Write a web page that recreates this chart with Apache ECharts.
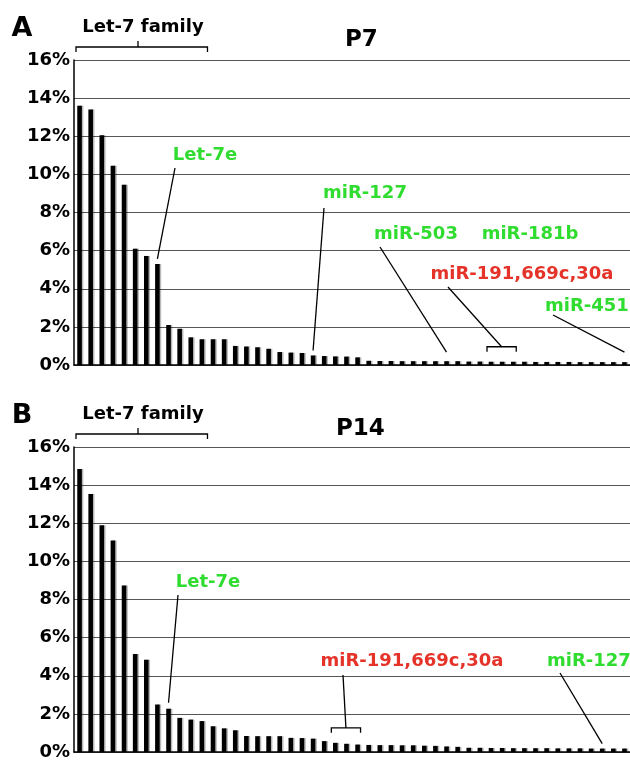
<!DOCTYPE html>
<html><head><meta charset="utf-8">
<script src="https://cdn.jsdelivr.net/npm/echarts@6/dist/echarts.min.js"></script>
<style>html,body{margin:0;padding:0;background:#fff;overflow:hidden}#c{width:630px;height:761px}</style>
</head><body><div id="c"></div>
<script>
// ---- data ----
const ranks = ['1','2','3','4','5','6','7','8','9','10','11','12','13','14','15','16','17','18','19','20',
  '21','22','23','24','25','26','27','28','29','30','31','32','33','34','35','36','37','38','39','40',
  '41','42','43','44','45','46','47','48','49','50'];
const p7Values = [13.6, 13.4, 12.05, 10.45, 9.45, 6.1, 5.72, 5.3, 2.1, 1.9,
  1.45, 1.35, 1.35, 1.35, 1.0, 0.97, 0.93, 0.85, 0.68, 0.65,
  0.63, 0.5, 0.47, 0.45, 0.44, 0.4, 0.22, 0.21, 0.21, 0.2,
  0.2, 0.2, 0.2, 0.2, 0.2, 0.18, 0.18, 0.17, 0.17, 0.17,
  0.17, 0.16, 0.16, 0.16, 0.16, 0.15, 0.15, 0.15, 0.15, 0.15];
const p14Values = [14.85, 13.53, 11.9, 11.1, 8.73, 5.14, 4.84, 2.49, 2.27, 1.79,
  1.7, 1.62, 1.35, 1.24, 1.14, 0.84, 0.83, 0.83, 0.83, 0.74,
  0.73, 0.7, 0.57, 0.48, 0.43, 0.39, 0.37, 0.36, 0.36, 0.35,
  0.35, 0.33, 0.32, 0.29, 0.27, 0.22, 0.22, 0.21, 0.21, 0.2,
  0.2, 0.2, 0.2, 0.19, 0.19, 0.19, 0.18, 0.18, 0.18, 0.18];
const yMin = 0, yMax = 16, yStep = 2;
const panelTitles = ['P7', 'P14'];
const panelLetters = ['A', 'B'];
const familyLabel = 'Let-7 family';
// annotated bars (0-based rank index)
const p7Notes = [
  {text: 'Let-7e', kind: 'green', bar: 7},
  {text: 'miR-127', kind: 'green', bar: 21},
  {text: 'miR-503', kind: 'green', bar: 33},
  {text: 'miR-181b', kind: 'green', bar: null},
  {text: 'miR-191,669c,30a', kind: 'red', bars: [37, 39]},
  {text: 'miR-451', kind: 'green', bar: 49}
];
const p14Notes = [
  {text: 'Let-7e', kind: 'green', bar: 8},
  {text: 'miR-191,669c,30a', kind: 'red', bars: [23, 25]},
  {text: 'miR-127', kind: 'green', bar: 47}
];
const familyBars = [0, 11];

// ---- layout / style ----
const FONT = '"DejaVu Sans", sans-serif';
const COLORS = {green: '#2fdc2f', red: '#e5332a'};
const grids = [{left: 74, top: 60, width: 560, height: 305}, {left: 74, top: 447, width: 560, height: 305.5}];
// text placement per note: [x, y, align, lineStartX, lineStartY, gap]
const p7Layout = [
  [205, 155, 'center', 175, 168, 5],
  [365, 193, 'center', 324, 208, 5],
  [416, 234, 'center', 380, 247, 9],
  [530, 234, 'center'],
  [522, 274, 'center', 448, 287],
  [545, 306, 'left', 553, 315, 10]
];
const p14Layout = [
  [208, 582, 'center', 178, 595, 6],
  [412, 661, 'center', 343, 675],
  [547, 661, 'left', 560, 673, 5]
];

const chart = echarts.init(document.getElementById('c'), null, {renderer: 'canvas'});

function yAxis(gi) {
  return {type: 'value', gridIndex: gi, min: yMin, max: yMax, interval: yStep,
    axisLabel: {formatter: '{value}%', fontFamily: FONT, fontWeight: 'bold', fontSize: 18, color: '#000', margin: 4},
    axisLine: {show: true, lineStyle: {color: '#000', width: 1.5}},
    axisTick: {show: false},
    splitLine: {lineStyle: {color: '#555', width: 1.2}}};
}
function xAxis(gi) {
  return {type: 'category', gridIndex: gi, data: ranks, boundaryGap: true,
    axisLabel: {show: false}, axisTick: {show: false},
    axisLine: {lineStyle: {color: '#000', width: 1.5}}};
}
function bars(gi, vals) {
  return {type: 'bar', xAxisIndex: gi, yAxisIndex: gi, data: vals, barWidth: 4.6, silent: true,
    itemStyle: {color: '#000', shadowColor: 'rgba(0,0,0,0.28)', shadowOffsetX: 1.5, shadowBlur: 0}};
}

chart.setOption({
  animation: false,
  backgroundColor: '#fff',
  grid: grids,
  xAxis: [xAxis(0), xAxis(1)],
  yAxis: [yAxis(0), yAxis(1)],
  title: panelTitles.map((t, i) => ({text: t, left: i === 0 ? 340 : 331, top: i === 0 ? 24 : 413,
    textStyle: {fontFamily: FONT, fontWeight: 'bold', fontSize: 23, color: '#000'}})),
  series: [bars(0, p7Values), bars(1, p14Values)]
});

const g = [];
function txt(s, x, y, color, size, align) {
  g.push({type: 'text', silent: true, style: {text: s, x: x, y: y, fill: color,
    font: 'bold ' + size + 'px ' + FONT, align: align || 'center', verticalAlign: 'middle'}});
}
function line(pts) {
  g.push({type: 'polyline', silent: true, shape: {points: pts}, style: {stroke: '#000', lineWidth: 1.3, fill: null}});
}
function px(gi, i, v) { return chart.convertToPixel({gridIndex: gi}, [i, v]); }

[[p7Notes, p7Layout, p7Values], [p14Notes, p14Layout, p14Values]].forEach(([notes, lay, vals], gi) => {
  const top = grids[gi].top;
  // panel letter + family bracket
  txt(panelLetters[gi], 22, top - 31, '#000', 27, 'center');
  txt(familyLabel, 143, top - 33, '#000', 18, 'center');
  const bl = grids[gi].left + 2;
  const br = px(gi, familyBars[1], 0)[0] + 5.6;
  const by = top - 13;
  line([[bl, by + 5], [bl, by], [br, by], [br, by + 5]]);
  line([[138, by], [138, by - 6]]);
  notes.forEach((n, k) => {
    const L = lay[k];
    txt(n.text, L[0], L[1], COLORS[n.kind], 18, L[2]);
    if (n.bar != null && L[3] != null) {
      const p = px(gi, n.bar, vals[n.bar]);
      line([[L[3], L[4]], [p[0], p[1] - L[5]]]);
    } else if (n.bars) {
      const a = px(gi, n.bars[0], 0)[0] - 4, b = px(gi, n.bars[1], 0)[0] + 3;
      let m = 0; for (let i = n.bars[0]; i <= n.bars[1]; i++) m = Math.max(m, vals[i]);
      const y = px(gi, n.bars[0], m)[1] - 15;
      line([[a, y + 5], [a, y], [b, y], [b, y + 5]]);
      line([[L[3], L[4]], [(a + b) / 2, y]]);
    }
  });
});
chart.setOption({graphic: g});
</script></body></html>
